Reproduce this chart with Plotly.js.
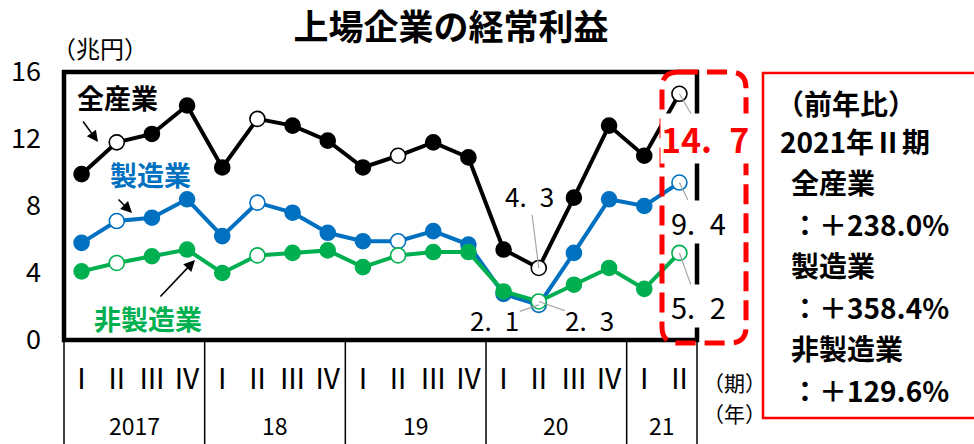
<!DOCTYPE html>
<html><head><meta charset="utf-8">
<script src="https://cdn.plot.ly/plotly-3.0.1.min.js"></script>
<style>html,body{margin:0;padding:0;background:#fff;}#chart{width:974px;height:444px;}</style>
</head><body><div id="chart"></div>
<script>
const quarters = ['Ⅰ','Ⅱ','Ⅲ','Ⅳ','Ⅰ','Ⅱ','Ⅲ','Ⅳ','Ⅰ','Ⅱ','Ⅲ','Ⅳ','Ⅰ','Ⅱ','Ⅲ','Ⅳ','Ⅰ','Ⅱ'];
const years = ['2017','18','19','20','21'];
const yearQuarterCounts = [4,4,4,4,2];
const allIndustries    = [9.9,11.8,12.3,14.0,10.3,13.2,12.8,11.9,10.3,11.0,11.8,10.9,5.4,4.3,8.5,12.8,11.0,14.7];
const manufacturing    = [5.8,7.1,7.3,8.4,6.2,8.2,7.6,6.4,5.9,5.9,6.5,5.7,2.75,2.1,5.2,8.4,8.0,9.4];
const nonManufacturing = [4.1,4.6,5.0,5.4,4.0,5.05,5.2,5.35,4.35,5.05,5.25,5.25,2.9,2.3,3.3,4.3,3.05,5.2];
const seriesNames  = ['全産業','製造業','非製造業'];
const seriesColors = ['#000000','#0070C0','#00B050'];
const yoyHeader = ['（前年比）','2021年Ⅱ期'];
const yoyValues = [238.0, 358.4, 129.6];
const yTicks = [0,4,8,12,16];

// layout geometry
const W = 974, H = 444, ML = 64, MR = 277, MT = 72, MB = 104;
const PW = W - ML - MR, PH = H - MT - MB;
const px = x => (x - ML) / PW;
const py = y => (H - MB - y) / PH;
const n = quarters.length;
const catPaper = c => (c + 0.5) / n;

const JP = '"Noto Sans CJK JP", "Noto Sans", sans-serif';

const xs = quarters.map((q, i) => i);
const seriesData = [allIndustries, manufacturing, nonManufacturing];
const traces = seriesData.map((vals, s) => ({
  type: 'scatter', mode: 'lines+markers', x: xs, y: vals, name: seriesNames[s],
  line: {color: seriesColors[s], width: 4},
  marker: {size: 15, color: quarters.map(q => q === 'Ⅱ' ? '#ffffff' : seriesColors[s]),
           line: {color: seriesColors[s], width: 1.6}},
  cliponaxis: false, hoverinfo: 'skip'
}));

const fmt = v => v.toFixed(1).replace('.', '.\u2002');
const annotations = [];
function txt(x, y, text, font, extra) {
  annotations.push(Object.assign({x: px(x), y: py(y), xref: 'paper', yref: 'paper', text: text,
    showarrow: false, xanchor: 'center', yanchor: 'middle', font: font}, extra || {}));
}
// value labels
const last = n - 1, dip = 13;
const valueLabels = [
  {i: last, s: 0, ax: 26, ay: 45, color: '#FF0000', size: 34, bold: true, bg: true},
  {i: last, s: 1, ax: 19, ay: 39, color: '#000', size: 29, bold: false, bg: true},
  {i: last, s: 2, ax: 19, ay: 53, color: '#000', size: 29, bold: false, bg: true},
  {i: dip, s: 0, ax: -9, ay: -72, color: '#000', size: 26, bold: false, bg: false},
  {i: dip, s: 1, ax: -44, ay: 15, color: '#000', size: 26, bold: false, bg: false},
  {i: dip, s: 2, ax: 51, ay: 18, color: '#000', size: 26, bold: false, bg: false}
];
valueLabels.forEach(l => {
  const t = fmt(seriesData[l.s][l.i]);
  annotations.push({x: l.i, y: seriesData[l.s][l.i], xref: 'x', yref: 'y',
    text: l.bold ? '<b>' + t + '</b>' : t, showarrow: true, arrowhead: 0, arrowwidth: 1.2,
    arrowcolor: '#A6A6A6', ax: l.ax, ay: l.ay, standoff: 0,
    font: {family: JP, size: l.size, color: l.color},
    bgcolor: l.bg ? '#ffffff' : 'rgba(0,0,0,0)', borderpad: 0});
});
// series labels
const seriesLabelPos = [[117, 97], [150, 174], [148, 318]];
seriesNames.forEach((nm, s) => {
  txt(seriesLabelPos[s][0], seriesLabelPos[s][1], '<b>' + nm + '</b>', {family: JP, size: 27, color: seriesColors[s]});
});
const arrowDefs = [[98,142,-16,-22],[132,213,-15,-15],[195,260,-36,38]];
arrowDefs.forEach(a => {
  annotations.push({x: px(a[0]), y: py(a[1]), xref: 'paper', yref: 'paper', text: '', showarrow: true,
    arrowhead: 2, arrowsize: 1.4, arrowwidth: 1.6, arrowcolor: '#000', ax: a[2], ay: a[3], standoff: 0});
});
// year labels + separators
const shapes = [];
let start = 0;
const bounds = [-0.5];
years.forEach((yr, k) => {
  const end = start + yearQuarterCounts[k];
  annotations.push({x: (catPaper(start - 0.5) + catPaper(end - 0.5)) / 2, y: py(425), xref: 'paper', yref: 'paper',
    xanchor: 'center', yanchor: 'middle', text: yr, showarrow: false, font: {family: JP, size: 23, color: '#000'}});
  bounds.push(end - 0.5);
  start = end;
});
bounds.forEach(b => {
  shapes.push({type: 'line', xref: 'paper', yref: 'paper', x0: catPaper(b), x1: catPaper(b), y0: 0, y1: py(446),
    line: {color: '#000', width: 1.5}});
});
// plot box
shapes.push({type: 'rect', xref: 'paper', yref: 'paper', x0: 0, x1: 1, y0: 0, y1: 1, line: {color: '#000', width: 4.5}});
// red dashed rounded box
function rr(x0, y0, x1, y1, r) {
  const P = (x, y) => px(x) + ',' + py(y);
  return 'M' + P(x0 + r, y0) + ' L' + P(x1 - r, y0) + ' Q' + P(x1, y0) + ' ' + P(x1, y0 + r) +
    ' L' + P(x1, y1 - r) + ' Q' + P(x1, y1) + ' ' + P(x1 - r, y1) + ' L' + P(x0 + r, y1) +
    ' Q' + P(x0, y1) + ' ' + P(x0, y1 - r) + ' L' + P(x0, y0 + r) + ' Q' + P(x0, y0) + ' ' + P(x0 + r, y0) + ' Z';
}
shapes.push({type: 'path', xref: 'paper', yref: 'paper', path: rr(662, 72, 746, 343, 16),
  line: {color: '#FF0000', width: 5, dash: '20px,9px'}});
// red solid box
shapes.push({type: 'rect', xref: 'paper', yref: 'paper', x0: px(763), x1: px(1000), y0: py(418), y1: py(73),
  line: {color: '#FF0000', width: 2.5}});
// yoy text
const boxLines = [[yoyHeader[0], 774, 103], [yoyHeader[1], 778, 141]];
seriesNames.forEach((nm, s) => {
  boxLines.push([nm, 789, 182 + s * 83]);
  boxLines.push(['：＋' + yoyValues[s].toFixed(1) + '%', 789, 224 + s * 83]);
});
boxLines.forEach(b => {
  txt(b[1], b[2], '<b>' + b[0] + '</b>', {family: JP, size: 28, color: '#000'}, {xanchor: 'left'});
});
// axis unit labels
txt(100, 48, '（兆円）', {family: JP, size: 24, color: '#000'});
txt(734, 382, '（期）', {family: JP, size: 21, color: '#000'});
txt(734, 413, '（年）', {family: JP, size: 21, color: '#000'});

const layout = {
  width: W, height: H, margin: {l: ML, r: MR, t: MT, b: MB},
  paper_bgcolor: '#fff', plot_bgcolor: '#fff', showlegend: false,
  title: {text: '<b>上場企業の経常利益</b>', font: {family: JP, size: 35, color: '#000'},
    x: 451 / W, xanchor: 'center', xref: 'container', y: 1 - 28 / H, yanchor: 'middle', yref: 'container'},
  xaxis: {range: [-0.5, n - 0.5], tickvals: xs, ticktext: quarters, showgrid: false, zeroline: false,
    showline: false, ticks: '', ticklabelstandoff: 20, tickfont: {family: JP, size: 28, color: '#000'}, fixedrange: true},
  yaxis: {range: [0, 16], tickvals: yTicks, ticktext: yTicks.map(String), showgrid: false, zeroline: false,
    showline: false, ticks: '', ticklabelstandoff: 22, tickfont: {family: JP, size: 27, color: '#000'}, fixedrange: true},
  shapes: shapes, annotations: annotations
};
Plotly.newPlot('chart', traces, layout, {displayModeBar: false, staticPlot: true});
</script></body></html>
